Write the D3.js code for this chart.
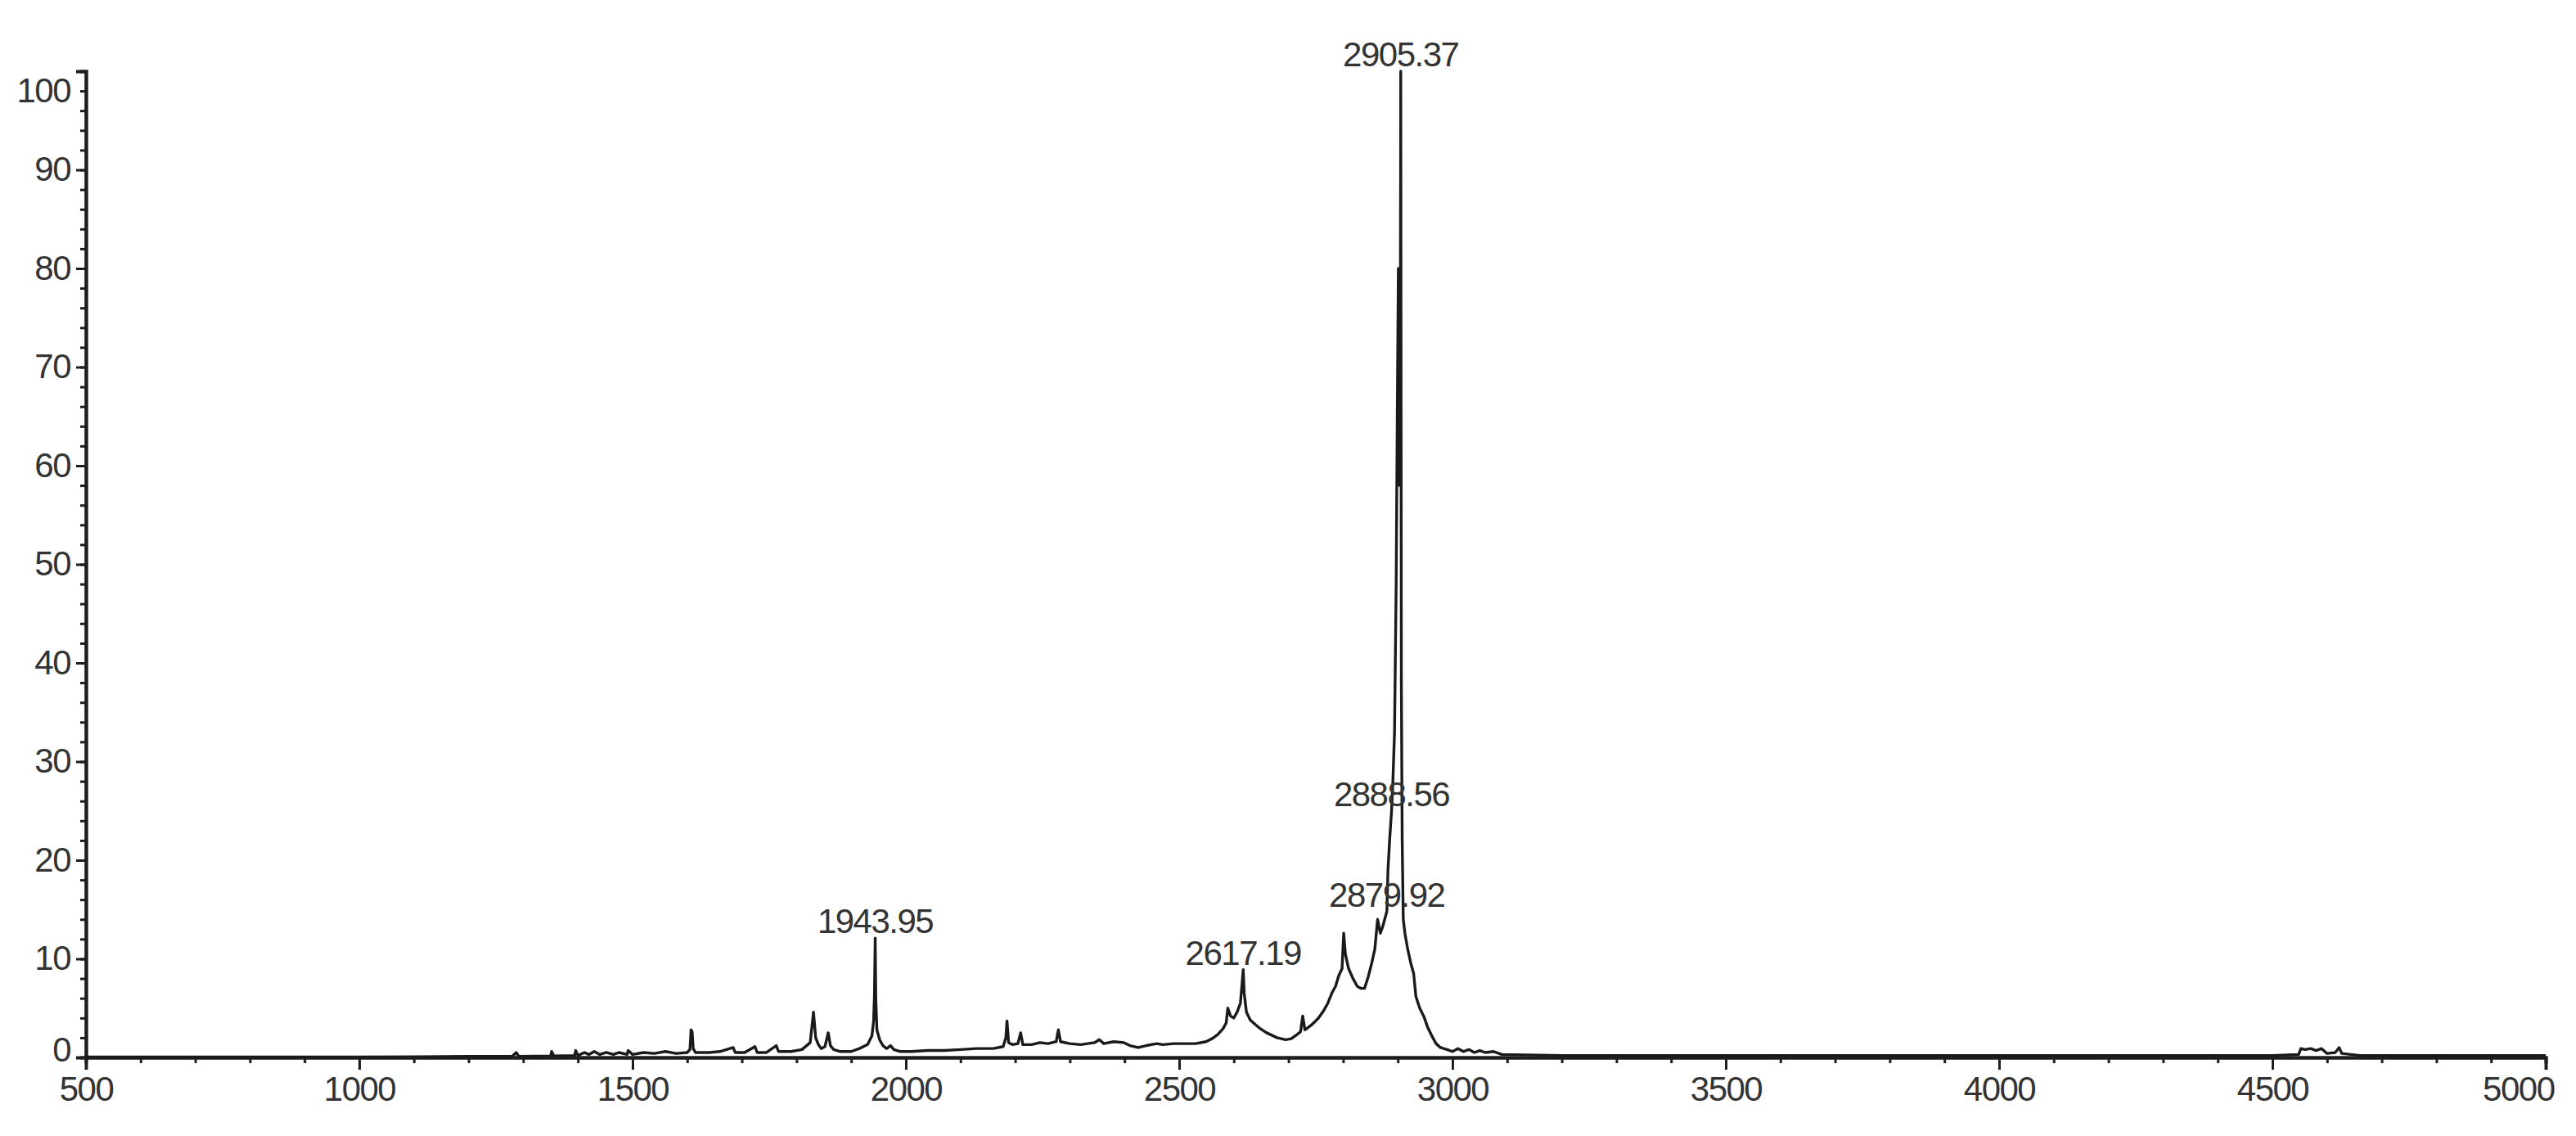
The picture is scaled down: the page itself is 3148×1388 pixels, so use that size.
<!DOCTYPE html>
<html>
<head>
<meta charset="utf-8">
<script src="https://cdn.jsdelivr.net/npm/d3@7/dist/d3.min.js"></script>
<style>
  body { margin: 0; background: #fff; }
  svg text { font-family: "Liberation Sans Narrow", "Arial Narrow", "Liberation Sans", Arial, sans-serif; letter-spacing: -1.5px; }
</style>
</head>
<body>
<div id="spectrum"></div>
<script>
// m/z positions of the trace
var mz = [
  500, 800, 1000, 1200, 1280, 1287, 1292, 1350, 1352, 1356, 1394, 1396, 1400,
  1412, 1420, 1430, 1440, 1452, 1465, 1475, 1490, 1492, 1500, 1520, 1540, 1560,
  1580, 1600, 1605, 1607, 1609, 1611, 1615, 1640, 1660, 1684, 1688, 1705, 1724,
  1728, 1745, 1763, 1767, 1790, 1810, 1825, 1831, 1835, 1840, 1845, 1852, 1858,
  1862, 1868, 1880, 1900, 1915, 1930, 1938, 1941, 1942.5, 1943.95, 1945, 1947,
  1952, 1958, 1965, 1972, 1978, 1990, 2010, 2040, 2070, 2100, 2130, 2160, 2178,
  2183, 2185, 2188, 2195, 2205, 2210, 2214, 2230, 2245, 2260, 2275, 2279, 2283,
  2300, 2320, 2345, 2354, 2362, 2380, 2399, 2410, 2425, 2440, 2459, 2470, 2490,
  2510, 2530, 2549, 2560, 2570, 2580, 2586, 2589, 2594, 2600, 2606, 2612, 2615,
  2617.19, 2619, 2623, 2630, 2640, 2649, 2660, 2679, 2695, 2705, 2715, 2722, 2726,
  2730, 2740, 2748, 2755, 2765, 2772, 2780, 2786, 2792, 2798, 2801, 2804, 2810,
  2818, 2826, 2833, 2839, 2846, 2852, 2858, 2863, 2868, 2872, 2876, 2879.92, 2882,
  2885, 2888.56, 2891, 2894, 2897, 2899, 2901, 2903, 2904.3, 2905.37, 2906.5, 2908,
  2910, 2913, 2918, 2924, 2929, 2933, 2940, 2948, 2955, 2963, 2970, 2978, 2990,
  3000, 3010, 3020, 3030, 3040, 3050, 3060, 3075, 3090, 3200, 3500, 4000, 4500,
  4548, 4552, 4560, 4570, 4580, 4590, 4600, 4615, 4622, 4627, 4660, 5000
];

// relative intensity (%) at each m/z
var intensity = [
  0.05, 0.05, 0.05, 0.1, 0.1, 0.5, 0.1, 0.15, 0.6, 0.15, 0.2, 0.7, 0.2,
  0.5, 0.3, 0.6, 0.3, 0.5, 0.3, 0.5, 0.3, 0.7, 0.3, 0.5, 0.4, 0.6,
  0.4, 0.5, 0.8, 2.8, 2.6, 0.9, 0.5, 0.5, 0.6, 1.0, 0.5, 0.5, 1.1,
  0.5, 0.5, 1.2, 0.6, 0.6, 0.8, 1.5, 4.6, 2.0, 1.3, 0.9, 1.1, 2.5,
  1.2, 0.8, 0.6, 0.6, 0.9, 1.3, 2.2, 3.7, 6.2, 12.1, 6.0, 2.8,
  1.8, 1.2, 0.9, 1.2, 0.8, 0.6, 0.6, 0.7, 0.7, 0.8, 0.9, 0.9, 1.1,
  2.0, 3.7, 1.5, 1.3, 1.4, 2.5, 1.3, 1.3, 1.5, 1.4, 1.6, 2.8, 1.6,
  1.4, 1.3, 1.5, 1.8, 1.4, 1.6, 1.5, 1.2, 1.0, 1.2, 1.4, 1.3, 1.4,
  1.4, 1.4, 1.6, 1.9, 2.3, 2.9, 3.5, 5.0, 4.2, 4.0, 4.6, 5.5, 7.4,
  8.9, 6.5, 4.6, 3.8, 3.3, 2.9, 2.5, 2.0, 1.8, 1.9, 2.3, 2.6, 4.2,
  2.8, 3.2, 3.6, 4.0, 4.8, 5.5, 6.6, 7.2, 8.3, 9.0, 12.6, 10.5, 9.0,
  8.0, 7.2, 7.0, 7.0, 8.2, 9.5, 11.0, 14.0, 12.6, 13.2, 14.0, 14.8, 19,
  22, 25, 28, 33, 48, 65, 80, 58, 62, 100, 38, 22,
  14, 12.6, 11, 9.5, 8.5, 6.2, 5.0, 4.1, 3.0, 2.1, 1.4, 1.0, 0.8,
  0.6, 0.9, 0.6, 0.8, 0.5, 0.7, 0.5, 0.6, 0.3, 0.2, 0.2, 0.2, 0.2,
  0.3, 0.9, 0.8, 0.9, 0.7, 0.9, 0.4, 0.5, 1.0, 0.4, 0.2, 0.2
];

// annotated peaks
var peakMz = [1943.95, 2617.19, 2879.92, 2888.56, 2905.37];
var peakText = ["1943.95", "2617.19", "2879.92", "2888.56", "2905.37"];

// axis tick labels
var xTicks = [500, 1000, 1500, 2000, 2500, 3000, 3500, 4000, 4500, 5000];
var yTicks = [0, 10, 20, 30, 40, 50, 60, 70, 80, 90, 100];

var margin = {top: 87, right: 37, bottom: 96, left: 105},
    width = 3148 - margin.left - margin.right,
    height = 1388 - margin.top - margin.bottom;

var svg = d3.select("#spectrum")
    .append("svg")
    .attr("width", 3148)
    .attr("height", 1388)
  .append("g")
    .attr("transform", "translate(" + margin.left + "," + margin.top + ")");

var x = d3.scaleLinear()
    .domain([500, 5000])
    .range([0, width]);

var y = d3.scaleLinear()
    .domain([0, 100])
    .range([height, 0]);

// minor ticks first, majors on top
svg.append("g")
    .attr("class", "x minor")
    .attr("transform", "translate(0," + height + ")")
    .call(d3.axisBottom(x).ticks(45).tickSize(7).tickFormat(""));

svg.append("g")
    .attr("class", "y minor")
    .call(d3.axisLeft(y).ticks(50).tickSize(7).tickFormat(""));

var xAxis = svg.append("g")
    .attr("class", "x axis")
    .attr("transform", "translate(0," + height + ")")
    .call(d3.axisBottom(x).tickValues(xTicks).tickSize(15).tickPadding(8).tickFormat(d3.format("d")));

var yAxis = svg.append("g")
    .attr("class", "y axis")
    .call(d3.axisLeft(y).tickValues(yTicks).tickSize(12).tickPadding(7));

svg.selectAll(".domain")
    .attr("stroke", "#1e1e1e")
    .attr("stroke-width", 4);

svg.selectAll(".tick line")
    .attr("stroke", "#1e1e1e")
    .attr("stroke-width", 3);

svg.selectAll(".axis text")
    .attr("fill", "#333")
    .style("font-size", "42px");

// end labels sit inside the axis like in the original
yAxis.selectAll(".tick text")
    .filter(function(d) { return d === 0; })
    .attr("dy", "0.1em");
yAxis.selectAll(".tick text")
    .filter(function(d) { return d === 100; })
    .attr("dy", "0.9em");
xAxis.selectAll(".tick text")
    .filter(function(d) { return d === 5000; })
    .attr("text-anchor", "end")
    .attr("x", 10);

var points = mz.map(function(m, i) { return {mz: m, value: intensity[i]}; });

var line = d3.line()
    .x(function(d) { return x(d.mz); })
    .y(function(d) { return y(d.value); });

svg.append("path")
    .datum(points)
    .attr("fill", "none")
    .attr("stroke", "#1a1a1a")
    .attr("stroke-width", 3.4)
    .attr("stroke-linejoin", "round")
    .attr("d", line);

svg.selectAll(".peak-label")
    .data(peakMz)
  .enter().append("text")
    .attr("class", "peak-label")
    .attr("x", function(d) { return x(d); })
    .attr("y", function(d) { return y(intensity[mz.indexOf(d)]) - 6; })
    .attr("text-anchor", "middle")
    .attr("fill", "#333")
    .style("font-size", "42px")
    .text(function(d, i) { return peakText[i]; });
</script>
</body>
</html>
